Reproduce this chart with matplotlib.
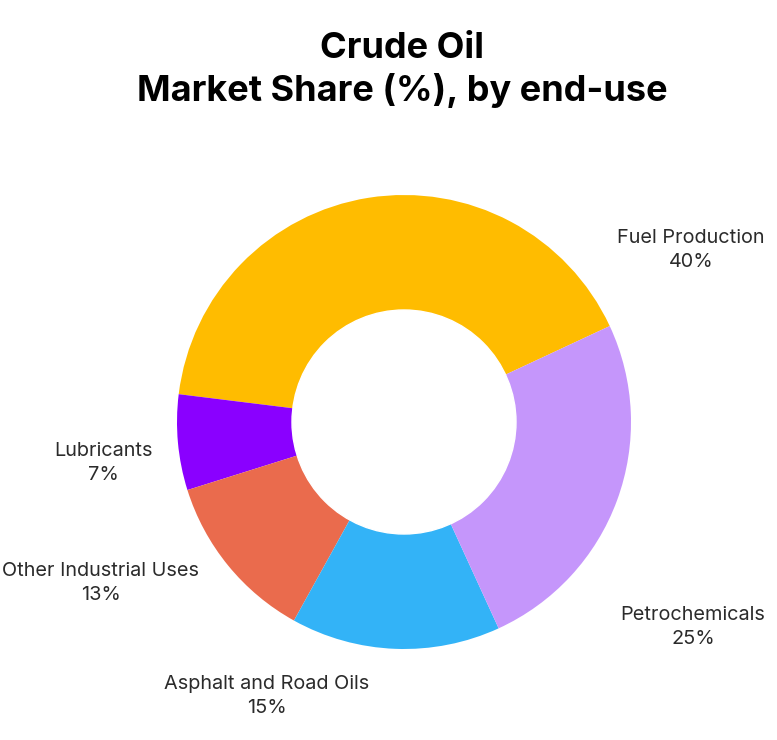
import matplotlib.pyplot as plt
from matplotlib.patches import Circle

categories = ["Fuel Production", "Lubricants", "Other Industrial Uses",
              "Asphalt and Road Oils", "Petrochemicals"]
shares = [40, 7, 13, 15, 25]                # label values
slice_sizes = [41.1, 6.8, 12.1, 14.9, 25.1]  # as drawn in the picture
colors = ["#FFBC00", "#8A00FF", "#EA6B4D", "#33B3F7", "#C596FB"]
# label anchor points in pixel space (x, y from top)
label_pos = [(691, 250), (103, 463), (101, 583), (267, 696), (693, 627)]

W, H = 777, 740
fig = plt.figure(figsize=(W / 100, H / 100), dpi=100)
ax = fig.add_axes([0, 0, 1, 1])

cx, cy = 404, H - 422
ax.pie(slice_sizes, colors=colors, startangle=25, counterclock=True,
       radius=227, center=(cx, cy), frame=True,
       wedgeprops=dict(linewidth=0))
ax.add_patch(Circle((cx, cy), 112, color="white", zorder=5))
ax.set_xlim(0, W)
ax.set_ylim(0, H)
ax.set_aspect("equal")
ax.axis("off")

for name, val, (x, y) in zip(categories, shares, label_pos):
    ax.text(x, H - y, f"{name}\n{val}%", ha="center", va="center",
            fontsize=14.3, family="Inter", color="#2b2b2b", linespacing=1.45)

ax.text(402, H - 70, "Crude Oil\nMarket Share (%), by end-use",
        ha="center", va="center", fontsize=26, family="Inter",
        fontweight="bold", color="black", linespacing=1.3)

fig.savefig("out.png", dpi=100)
